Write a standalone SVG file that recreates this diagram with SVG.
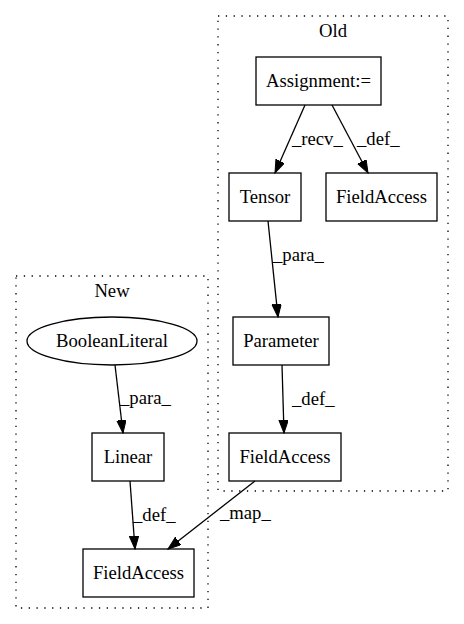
<svg xmlns="http://www.w3.org/2000/svg" width="464" height="624" viewBox="0 0 464 624">
<style>
text{font-family:"Liberation Serif","Times New Roman",serif;font-size:18.67px;fill:#000}
.n{fill:#fff;stroke:#000;stroke-width:1.3}
.c{fill:none;stroke:#000;stroke-width:1.3;stroke-dasharray:1.3,6.5}
.e{fill:none;stroke:#000;stroke-width:1.3;marker-end:url(#ah)}
.m{text-anchor:middle}
</style>
<defs>
<marker id="ah" markerUnits="userSpaceOnUse" markerWidth="14" markerHeight="10" refX="13" refY="4.7" orient="auto">
<path d="M0,0 L13,4.7 L0,9.4 z" fill="#000" stroke="#000"/>
</marker>
</defs>
<rect width="464" height="624" fill="#fff"/>
<g id="cluster_old">
<rect class="c" x="218" y="16" width="230" height="475"/>
<text class="m" x="333" y="37">Old</text>
</g>
<g id="cluster_new">
<rect class="c" x="16" y="276" width="192" height="332"/>
<text class="m" x="112" y="297">New</text>
</g>
<g id="assignment">
<rect class="n" x="256" y="57" width="125" height="48"/>
<text class="m" x="318.5" y="87">Assignment:=</text>
</g>
<g id="tensor">
<rect class="n" x="229" y="173" width="72" height="48"/>
<text class="m" x="265" y="203">Tensor</text>
</g>
<g id="fieldaccess_old_top">
<rect class="n" x="326" y="173" width="111" height="48"/>
<text class="m" x="381.5" y="203">FieldAccess</text>
</g>
<g id="parameter">
<rect class="n" x="233" y="317" width="96" height="48"/>
<text class="m" x="281" y="347">Parameter</text>
</g>
<g id="fieldaccess_old_bottom">
<rect class="n" x="229" y="433" width="112" height="48"/>
<text class="m" x="285" y="463">FieldAccess</text>
</g>
<g id="booleanliteral">
<ellipse class="n" cx="112" cy="341" rx="85" ry="24"/>
<text class="m" x="112" y="347">BooleanLiteral</text>
</g>
<g id="linear">
<rect class="n" x="92" y="433" width="72" height="48"/>
<text class="m" x="128" y="463">Linear</text>
</g>
<g id="fieldaccess_new">
<rect class="n" x="83" y="549" width="111" height="48"/>
<text class="m" x="138.5" y="579">FieldAccess</text>
</g>
<g id="connectors">
<path class="e" d="M305,105 L275,173"/>
<text x="292" y="145">_recv_</text>
<path class="e" d="M332,105 L368,173"/>
<text x="357" y="145">_def_</text>
<path class="e" d="M268,221 L278,317"/>
<text x="273" y="261">_para_</text>
<path class="e" d="M282,365 L284,433"/>
<text x="292" y="405">_def_</text>
<path class="e" d="M115,365 L123,433"/>
<text x="120" y="404">_para_</text>
<path class="e" d="M130,481 L135,549"/>
<text x="133" y="521">_def_</text>
<path class="e" d="M255,481 L168,549"/>
<text x="220" y="519">_map_</text>
</g>
</svg>
